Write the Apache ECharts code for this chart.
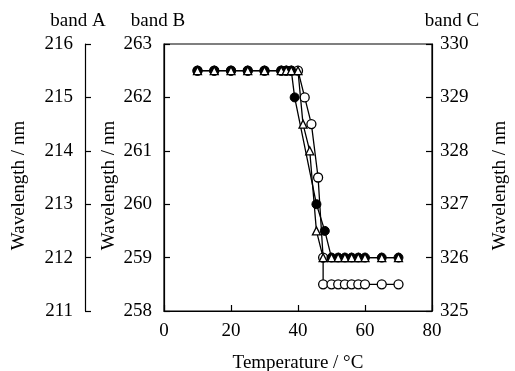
<!DOCTYPE html>
<html>
<head>
<meta charset="utf-8">
<script src="https://cdn.jsdelivr.net/npm/echarts@6/dist/echarts.min.js"></script>
<style>
  html, body { margin: 0; padding: 0; background: #fff; }
  #chart { width: 515px; height: 371px; }
</style>
</head>
<body>
<div id="chart"></div>
<script>
// open triangles, read on band A (nm)
const triTemps = [10, 15, 20, 25, 30, 35, 36.5, 38, 40, 41.5, 43.5, 45.5, 47.5, 50, 52, 54, 56, 58, 60, 65, 70];
const triBandA = [215.5, 215.5, 215.5, 215.5, 215.5, 215.5, 215.5, 215.5, 215.5, 214.5, 214, 212.5, 212, 212, 212, 212, 212, 212, 212, 212, 212];

// filled circles, read on band B (nm)
const dotTemps = [10, 15, 20, 25, 30, 35, 36.5, 38, 39, 45.5, 48, 50, 52, 54, 56, 58, 60, 65, 70];
const dotBandB = [262.5, 262.5, 262.5, 262.5, 262.5, 262.5, 262.5, 262.5, 262, 260, 259.5, 259, 259, 259, 259, 259, 259, 259, 259];

// open circles, read on band C (nm)
const ringTemps = [10, 15, 20, 25, 30, 35, 36.5, 38, 40, 42, 44, 46, 47.5, 47.5, 50, 52, 54, 56, 58, 60, 65, 70];
const ringBandC = [329.5, 329.5, 329.5, 329.5, 329.5, 329.5, 329.5, 329.5, 329.5, 329, 328.5, 327.5, 326, 325.5, 325.5, 325.5, 325.5, 325.5, 325.5, 325.5, 325.5, 325.5];

const xTicks = { min: 0, max: 80, step: 20 };
const bandA = { min: 211, max: 216 };
const bandB = { min: 258, max: 263 };
const bandC = { min: 325, max: 330 };

const font = "'Liberation Serif', 'DejaVu Serif', serif";
const zip = (xs, ys) => xs.map((x, i) => [x, ys[i]]);

const chart = echarts.init(document.getElementById("chart"));

const nameStyle = { color: "#000", fontFamily: font, fontSize: 19 };

const yAxisBase = {
  type: "value",
  interval: 1,
  splitLine: { show: false },
  axisLine: { show: true, onZero: false, lineStyle: { color: "#000", width: 1.2 } },
  axisTick: { show: true, inside: true, length: 6, lineStyle: { color: "#000", width: 1.2 } },
  axisLabel: { color: "#000", fontFamily: font, fontSize: 19, margin: 12 },
  nameLocation: "end",
  nameGap: 23,
};

chart.setOption({
  animation: false,
  backgroundColor: "#fff",
  grid: {
    left: 164, right: 83, top: 44, bottom: 60,
    outerBoundsMode: "none", containLabel: false,
    show: true, borderColor: "#000", borderWidth: 1.2,
  },
  xAxis: {
    type: "value",
    min: xTicks.min, max: xTicks.max, interval: xTicks.step,
    splitLine: { show: false },
    axisLine: { onZero: false, lineStyle: { color: "#000", width: 1.2 } },
    axisTick: { inside: true, length: 6, lineStyle: { color: "#000", width: 1.2 } },
    axisLabel: { color: "#000", fontFamily: font, fontSize: 19, margin: 11 },
    name: "Temperature / °C",
    nameLocation: "middle",
    nameGap: 43,
    nameTextStyle: nameStyle,
  },
  yAxis: [
    {
      ...yAxisBase, ...bandA,
      position: "left", offset: 79,
      name: "band A",
      nameTextStyle: { ...nameStyle, align: "center", verticalAlign: "middle", padding: [0, 14, 0, 0] },
    },
    {
      ...yAxisBase, ...bandB,
      position: "left", offset: 0,
      name: "band B",
      nameTextStyle: { ...nameStyle, align: "center", verticalAlign: "middle", padding: [0, 12, 0, 0] },
    },
    {
      ...yAxisBase, ...bandC,
      position: "right", offset: 0,
      axisLabel: { ...yAxisBase.axisLabel, margin: 8 },
      name: "band C",
      nameTextStyle: { ...nameStyle, align: "center", verticalAlign: "middle", padding: [0, 0, 0, 40] },
    },
  ],
  graphic: [
    { type: "text", left: 10, top: "middle", rotation: Math.PI / 2,
      style: { text: "Wavelength / nm", font: "19px " + font, fill: "#000" } },
    { type: "text", left: 100, top: "middle", rotation: Math.PI / 2,
      style: { text: "Wavelength / nm", font: "19px " + font, fill: "#000" } },
    { type: "text", right: 5, top: "middle", rotation: Math.PI / 2,
      style: { text: "Wavelength / nm", font: "19px " + font, fill: "#000" } },
  ],
  series: [
    {
      name: "band C", type: "line", yAxisIndex: 2,
      data: zip(ringTemps, ringBandC),
      symbol: "circle", symbolSize: 9,
      itemStyle: { color: "#fff", borderColor: "#000", borderWidth: 1.3 },
      lineStyle: { color: "#000", width: 1.3 },
    },
    {
      name: "band B", type: "line", yAxisIndex: 1,
      data: zip(dotTemps, dotBandB),
      symbol: "circle", symbolSize: 9,
      itemStyle: { color: "#000", borderColor: "#000", borderWidth: 1 },
      lineStyle: { color: "#000", width: 1.3 },
    },
    {
      name: "band A", type: "line", yAxisIndex: 0,
      data: zip(triTemps, triBandA),
      symbol: "triangle", symbolSize: 8,
      itemStyle: { color: "#fff", borderColor: "#000", borderWidth: 1.3 },
      lineStyle: { color: "#000", width: 1.3 },
    },
  ].map((s) => ({ ...s, showSymbol: true, showAllSymbol: true, emphasis: { disabled: true } })),
});
</script>
</body>
</html>
